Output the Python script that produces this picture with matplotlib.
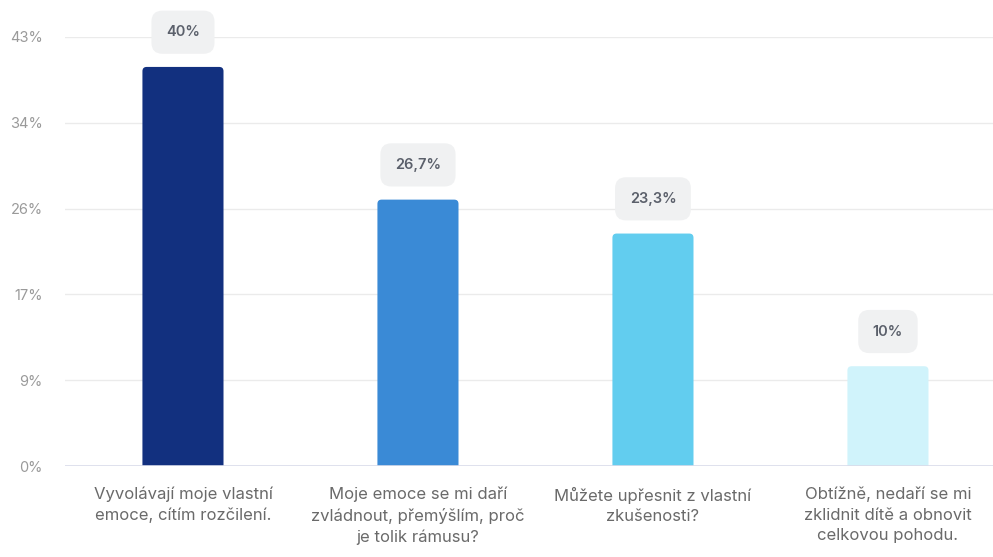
import matplotlib.pyplot as plt
from matplotlib.patches import FancyBboxPatch

# --- DATA ---
categories = [
    "Vyvolávají moje vlastní\nemoce, cítím rozčilení.",
    "Moje emoce se mi daří\nzvládnout, přemýšlím, proč\nje tolik rámusu?",
    "Můžete upřesnit z vlastní\nzkušenosti?",
    "Obtížně, nedaří se mi\nzklidnit dítě a obnovit\ncelkovou pohodu.",
]
values = [40, 26.7, 23.3, 10]
value_labels = ["40%", "26,7%", "23,3%", "10%"]
y_ticks = [0, 8.6, 17.2, 25.8, 34.4, 43]
y_tick_labels = ["0%", "9%", "17%", "26%", "34%", "43%"]
colors = ["#12307f", "#3a8ad6", "#62cdef", "#d0f3fb"]

plt.rcParams['font.family'] = ['Inter', 'DejaVu Sans']

fig = plt.figure(figsize=(9.93, 5.57), dpi=100)
W, H = 993, 557
ax = fig.add_axes([65 / W, (H - 466) / H, (993 - 65) / W, (466 - 37) / H])

x = list(range(len(values)))
bars = ax.bar(x, values, width=0.345, color=colors)

# swap plain bars for ones with slightly rounded corners
for b, c in zip(bars, colors):
    patch = FancyBboxPatch((b.get_x(), b.get_y() - 2), b.get_width(), b.get_height() + 2,
                           boxstyle="round,pad=0,rounding_size=0.018",
                           mutation_aspect=23.5, facecolor=c, edgecolor="none", zorder=3)
    ax.add_patch(patch)
    b.remove()

# value labels in grey rounded boxes
for xi, v, lab in zip(x, values, value_labels):
    ax.annotate(lab, (xi, v), xytext=(0, 25), textcoords="offset points",
                ha="center", va="center", fontsize=10.5, fontweight="semibold",
                color="#5b606b", annotation_clip=False, zorder=5,
                bbox=dict(boxstyle="round,pad=1.0,rounding_size=0.75",
                          fc="#f0f1f2", ec="none"))

ax.set_xlim(-0.502, 3.447)
ax.set_ylim(0, 43)
ax.set_yticks(y_ticks)
ax.set_yticklabels(y_tick_labels, fontsize=10.5, color="#9a9a9a")
ax.set_xticks(x)
ax.set_xticklabels(categories, fontsize=12, color="#6a6a6a", linespacing=1.45)
ax.tick_params(axis="both", length=0)
ax.tick_params(axis="y", pad=16)
ax.tick_params(axis="x", pad=15)

for s in ax.spines.values():
    s.set_visible(False)
for t in y_ticks[1:]:
    ax.axhline(t, color="#ebebeb", lw=1, zorder=1)
ax.axhline(0, color="#d9dcea", lw=1.2, zorder=4)

fig.savefig("out.png", dpi=100)
